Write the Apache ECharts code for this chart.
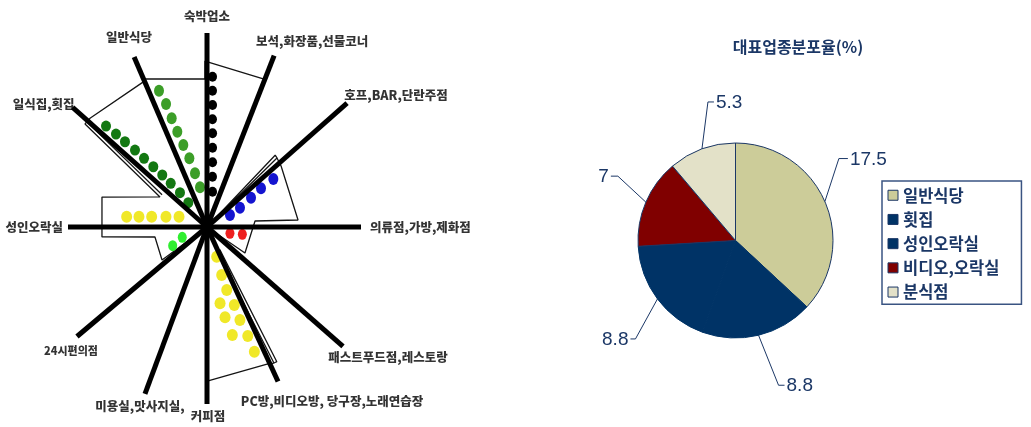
<!DOCTYPE html>
<html>
<head>
<meta charset="utf-8">
<script src="https://cdn.jsdelivr.net/npm/echarts@6/dist/echarts.min.js"></script>
<style>
  html, body { margin: 0; padding: 0; background: #ffffff; }
  #chart { width: 1031px; height: 427px; }
</style>
</head>
<body>
<div id="chart"></div>
<script>
// ---- radial business-type diagram (angles in degrees, counter-clockwise from east) ----
const spokeNames = ['의류점,가방,제화점', '호프,BAR,단란주점', '보석,화장품,선물코너', '숙박업소', '일반식당', '일식집,횟집',
                    '성인오락실', '24시편의점', '미용실,맛사지실,', '커피점', 'PC방,비디오방, 당구장,노래연습장', '패스트푸드점,레스토랑'];
const spokeAngles  = [0, 41.5, 68.6, 90, 113.2, 138.3, 180, 220.1, 249.6, 270, 294.7, 318.7];
const spokeLengths = [154, 187, 184, 194, 185, 180, 139, 170, 178, 177, 170, 181];

// dots placed along the spokes: [radius, angle]
const dotsLodging     = [[150.4, 87.9], [136.4, 87.7], [122.1, 87.4], [107.8, 87.1], [93.9, 86.6], [79.5, 86.0], [64.9, 85.1], [50.6, 83.8], [35.7, 81.1]];
const dotsRestaurant  = [[144.5, 109.4], [129.7, 108.4], [114.3, 108.0], [99.8, 107.3], [85.4, 106.1], [70.9, 104.4], [55.0, 102.6], [40.3, 100.0]];
const dotsSashimi     = [[142.8, 135.0], [130.1, 134.4], [118.3, 133.9], [105.4, 133.1], [93.2, 132.5], [80.7, 131.7], [68.6, 130.7], [56.8, 129.7], [43.7, 128.2], [30.7, 127.6]];
const dotsPub         = [[25.9, 27.6], [38.2, 30.3], [52.9, 33.7], [66.4, 35.6], [81.9, 35.9]];
const dotsClothing    = [[23.8, 344.7], [36.1, 348.3]];
const dotsAdult       = [[81.0, 172.7], [68.8, 171.4], [56.3, 169.4], [42.3, 165.9], [29.8, 159.8]];
const dotsConvenience = [[39.1, 208.6], [26.8, 202.6]];
const dotsPcRoom      = [[31.2, 288.1], [50.2, 287.0], [66.0, 287.4], [77.4, 279.7], [82.6, 289.3], [92.1, 281.3], [98.7, 289.5], [110.9, 283.2], [116.4, 290.5], [133.4, 290.8]];

// thin outline of the area shares: polylines of [radius, angle]
const outlinePub      = [[0, 44.6], [98.3, 44.6], [99.0, 46.5], [0, 46.5]];
const outlineRight    = [[98.3, 44.6], [96.0, 39.5], [91.3, 4.4], [48.4, 7.1], [46.0, 325.6], [0, 322]];
const outlineTop      = [[0, 68.6], [158.6, 68.9], [166.0, 90.7], [148.0, 90.8], [160.5, 112.7], [158.3, 114.0], [159.7, 137.1],
                         [159.7, 139.8], [55.8, 147.4], [109.2, 164.1], [105.5, 185.4], [53.0, 190.9], [55.8, 216.3], [0, 220]];
const outlineSashimi  = [[159.6, 138.8], [55.3, 144.4]];
const outlineBottom   = [[0, 270], [154.0, 270.4], [149.6, 293.65], [151.6, 296.2], [26.5, 292.9]];
const outlinePcRoom   = [[151.6, 296.2], [151.7, 297.4], [26.0, 299.5]];

// ---- pie: share of representative business types (%) ----
const pieTitle  = '대표업종분포율(%)';
const pieNames  = ['일반식당', '횟집', '성인오락실', '비디오,오락실', '분식점'];
const pieValues = [17.5, 8.8, 8.8, 7, 5.3];

// ---------------- styling / layout ----------------
const INK = '#1b3766';
const pieColors   = ['#cccc99', '#003366', '#003366', '#800000', '#e3e1c8'];
const pieBorders  = [INK, '#003366', '#003366', INK, INK];
const PIE_CX = 735.5, PIE_CY = 240.5, PIE_R = 97.5;
// leader line bend (relative to slice edge) and horizontal tail length
const leaderKnees = [[14, -43], [20, 50], [-22, 40], [-28, -26], [6, -47]];
const leaderTails = [9, 6, 5, 7, 6];

// spoke label placement relative to the spoke end
const spokeLabelLayout = {
  '의류점,가방,제화점':               { offset: [9, 0], align: 'left' },
  '호프,BAR,단란주점':                { offset: [49, -8] },
  '보석,화장품,선물코너':             { offset: [38, -14] },
  '숙박업소':                         { offset: [0, -17] },
  '일반식당':                         { offset: [-5, -20] },
  '일식집,횟집':                      { offset: [-29, -3] },
  '성인오락실':                       { offset: [-5, 0], align: 'right' },
  '24시편의점':                       { offset: [-6, 14], fontSize: 11 },
  '미용실,맛사지실,':                 { offset: [-5, 12] },
  '커피점':                           { offset: [1, 12] },
  'PC방,비디오방, 당구장,노래연습장': { offset: [54, 20] },
  '패스트푸드점,레스토랑':            { offset: [45, 11] }
};

const dotGroups = [
  { data: dotsLodging,     color: '#000000', size: [9, 10] },
  { data: dotsRestaurant,  color: '#3c9e28', size: [10, 12] },
  { data: dotsSashimi,     color: '#137812', size: [10, 11] },
  { data: dotsPub,         color: '#1414d0', size: [10, 12] },
  { data: dotsClothing,    color: '#ee2020', size: [9, 11] },
  { data: dotsAdult,       color: '#f0e828', size: [11, 12] },
  { data: dotsConvenience, color: '#30ee30', size: [9, 11] },
  { data: dotsPcRoom,      color: '#f0e828', size: [11, 12] }
];

const outlines = [outlinePub, outlineRight, outlineTop, outlineSashimi, outlineBottom, outlinePcRoom];

const series = [];

outlines.forEach(function (path) {
  series.push({
    type: 'line', coordinateSystem: 'polar', data: path, symbol: 'none', clip: false, silent: true,
    lineStyle: { color: '#151515', width: 1.3 }, z: 1
  });
});

dotGroups.forEach(function (g) {
  series.push({
    type: 'scatter', coordinateSystem: 'polar', data: g.data, symbol: 'circle', symbolSize: g.size,
    itemStyle: { color: g.color, opacity: 1 }, silent: true, z: 2
  });
});

spokeAngles.forEach(function (a, i) {
  series.push({
    type: 'line', coordinateSystem: 'polar', data: [[0, a], [spokeLengths[i], a]], symbol: 'none', clip: false, silent: true,
    lineStyle: { color: '#000000', width: 5, cap: 'butt' }, z: 3
  });
});

series.push({
  type: 'scatter', coordinateSystem: 'polar', symbolSize: 0, silent: true, z: 4,
  data: spokeNames.map(function (n, i) {
    const lay = spokeLabelLayout[n];
    const lab = { offset: lay.offset };
    if (lay.align) lab.align = lay.align;
    if (lay.fontSize) lab.fontSize = lay.fontSize;
    return { name: n, value: [spokeLengths[i], spokeAngles[i]], label: lab };
  }),
  label: {
    show: true, position: 'inside', formatter: '{b}', color: '#000000',
    fontSize: 12.5, fontWeight: 900, fontFamily: '"Noto Sans CJK KR", sans-serif'
  }
});

const pieTotal = pieValues.reduce(function (s, v) { return s + v; }, 0);

series.push({
  type: 'pie', center: [PIE_CX, PIE_CY], radius: PIE_R, startAngle: 90, clockwise: true,
  avoidLabelOverlap: false, silent: true,
  data: pieNames.map(function (n, i) {
    return { name: n, value: pieValues[i], itemStyle: { color: pieColors[i], borderColor: pieBorders[i] } };
  }),
  itemStyle: { borderWidth: 1 },
  label: { show: true, formatter: '{c}', color: INK, fontSize: 19, fontFamily: '"Liberation Sans", Arial, sans-serif' },
  labelLine: { show: true, lineStyle: { color: INK, width: 1 } },
  emphasis: { disabled: true },
  labelLayout: function (params) {
    const i = params.dataIndex;
    let before = 0;
    for (let k = 0; k < i; k++) before += pieValues[k];
    const mid = (before + pieValues[i] / 2) / pieTotal * 2 * Math.PI;
    const edge = [PIE_CX + PIE_R * Math.sin(mid), PIE_CY - PIE_R * Math.cos(mid)];
    const kn = leaderKnees[i];
    const side = kn[0] >= 0 ? 1 : -1;
    const knee = [edge[0] + kn[0], edge[1] + kn[1]];
    const end = [knee[0] + side * leaderTails[i], knee[1]];
    return {
      x: end[0] + side * 2, y: end[1] + 1,
      align: side > 0 ? 'left' : 'right', verticalAlign: 'middle',
      labelLinePoints: [edge, knee, end]
    };
  }
});

const chart = echarts.init(document.getElementById('chart'));
chart.setOption({
  animation: false,
  backgroundColor: '#ffffff',
  polar: { center: [207, 227], radius: [0, 200] },
  angleAxis: {
    type: 'value', min: 0, max: 360, startAngle: 0, clockwise: false,
    axisLine: { show: false }, axisTick: { show: false }, axisLabel: { show: false }, splitLine: { show: false }
  },
  radiusAxis: {
    type: 'value', min: 0, max: 200,
    axisLine: { show: false }, axisTick: { show: false }, axisLabel: { show: false }, splitLine: { show: false }
  },
  legend: {
    data: pieNames, orient: 'vertical', left: 882, top: 181,
    padding: [6, 22, 4, 5.5], itemGap: 7.7, itemWidth: 10, itemHeight: 10, icon: 'rect',
    borderColor: '#3a5482', borderWidth: 1.5, selectedMode: false,
    itemStyle: { borderColor: INK, borderWidth: 1 },
    textStyle: { color: INK, fontSize: 16.5, fontWeight: 'bold', fontFamily: '"Noto Sans CJK KR", sans-serif' }
  },
  graphic: [{
    type: 'text', x: 798, y: 47, silent: true,
    style: {
      text: pieTitle, fill: INK, align: 'center', verticalAlign: 'middle',
      fontSize: 16, fontWeight: 'bold', fontFamily: '"Noto Sans CJK KR", sans-serif'
    }
  }],
  series: series
});
</script>
</body>
</html>
